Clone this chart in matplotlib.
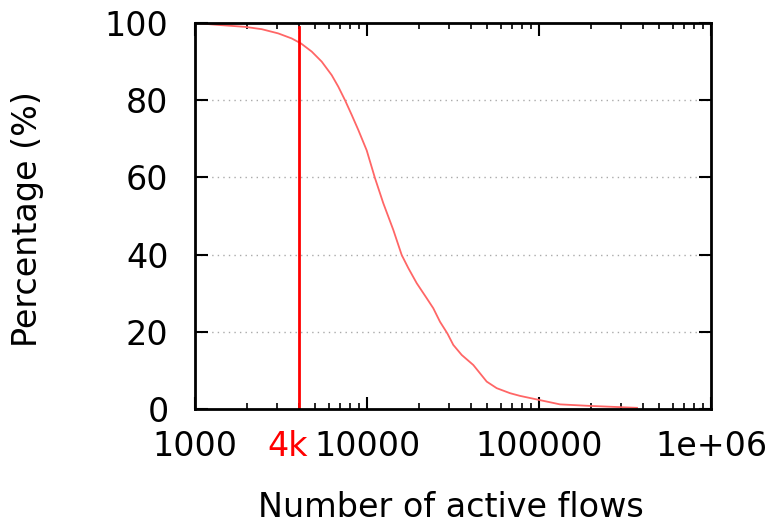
import matplotlib
matplotlib.use("Agg")
import matplotlib.pyplot as plt
from matplotlib.ticker import FixedLocator, NullFormatter
import matplotlib.transforms as mtransforms

# Data (CCDF of active flows)
flows = [1000, 1366, 1953, 2442, 3050, 3649, 4134, 4770, 5452, 6233, 6810, 7450,
         8147, 8900, 9960, 11130, 12440, 14220, 15910, 17390, 19450, 22240, 24290,
         26570, 29310, 31750, 35530, 41500, 49650, 56750, 67830, 77530, 101300,
         132400, 198000, 371400]
percent = [100.0, 99.5, 99.0, 98.4, 97.3, 96.0, 94.7, 92.6, 90.0, 86.5, 83.5, 80.0,
           76.2, 72.3, 67.0, 59.8, 53.3, 46.4, 39.9, 36.5, 32.6, 28.7, 26.1,
           22.6, 19.6, 16.6, 14.0, 11.4, 7.1, 5.4, 4.1, 3.4, 2.3,
           1.2, 0.8, 0.3]
marker_x = 4000
marker_label = "4k"
xticks = [1000, 10000, 100000, 1000000]
xtick_labels = ["1000", "10000", "100000", "1e+06"]
yticks = [0, 20, 40, 60, 80, 100]
ytick_labels = ["0", "20", "40", "60", "80", "100"]

plt.rcParams['font.family'] = ['DejaVu Sans']
FS = 24

fig = plt.figure(figsize=(7.76, 5.24), dpi=100)
ax = fig.add_axes([195/776, 1 - 409/524, (711 - 195)/776, (409 - 23)/524])

ax.plot(flows, percent, color='#ff6666', lw=1.3)
ax.axvline(marker_x, ymin=0, ymax=0.99, color='#ff0000', lw=2)

ax.set_xscale('log')
ax.set_xlim(1000, 1e6)
ax.set_ylim(0, 100)

ax.xaxis.set_major_locator(FixedLocator(xticks))
ax.set_xticklabels(xtick_labels)
minors = [m * 10**e for e in range(3, 6) for m in range(2, 10)]
ax.xaxis.set_minor_locator(FixedLocator(minors))
ax.xaxis.set_minor_formatter(NullFormatter())
ax.set_yticks(yticks)
ax.set_yticklabels(ytick_labels)

for y in yticks[1:-1]:
    ax.axhline(y, color='#aaaaaa', lw=1, ls=(0, (1, 3)), zorder=0)

ax.tick_params(which='major', direction='in', length=9, width=1.5,
               top=True, right=True, labelsize=FS)
ax.tick_params(which='minor', direction='in', length=4.5, width=1.2,
               top=True, right=True)
ax.tick_params(axis='y', which='major', pad=19)
ax.tick_params(axis='x', which='major', pad=15)
for s in ax.spines.values():
    s.set_linewidth(2)

# red "4k" label under the marker line, aligned with the tick labels
trans = ax.get_xaxis_transform() + mtransforms.ScaledTranslation(-11/100, -15/72, fig.dpi_scale_trans)
ax.text(marker_x, 0, marker_label, transform=trans, color='#ff0000', fontsize=FS,
        ha='center', va='top')

fig.text(451/776, 1 - 517/524, "Number of active flows", fontsize=FS,
         ha='center', va='baseline')
fig.text(28/776, 1 - 219/524, "Percentage (%)", fontsize=FS,
         ha='center', va='center', rotation=90)

fig.savefig("out.png", dpi=100)
